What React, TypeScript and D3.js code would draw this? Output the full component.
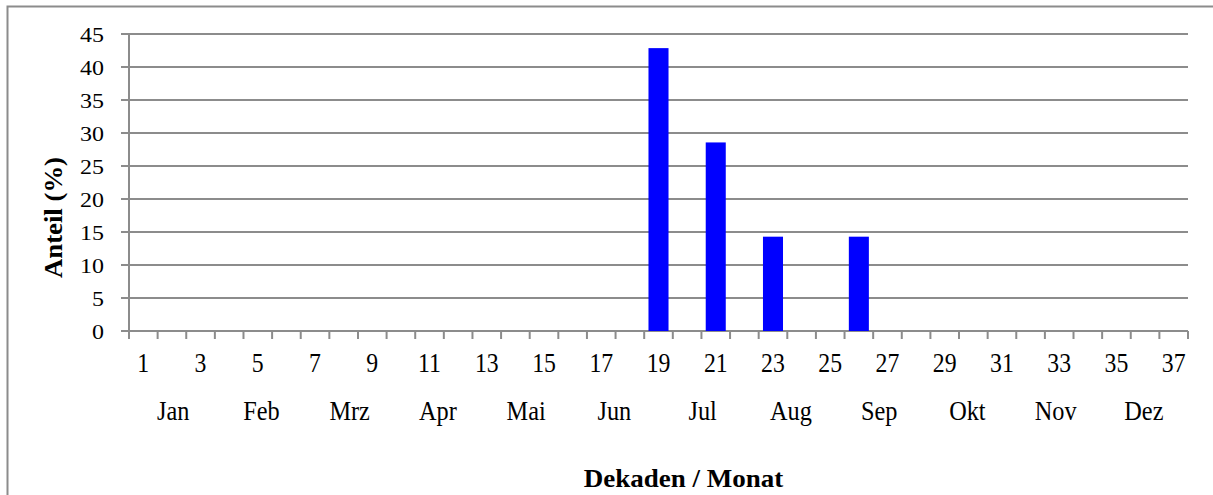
import React, { useEffect, useRef } from 'react';
import * as d3 from 'd3';

const decades = d3.range(1, 38).map(String);
const shares = [
  0, 0, 0, 0, 0, 0, 0, 0, 0, 0, 0, 0, 0, 0, 0, 0, 0, 0,
  42.86, 0, 28.57, 0, 14.29, 0, 0, 14.29,
  0, 0, 0, 0, 0, 0, 0, 0, 0, 0, 0,
];
const months = ['Jan', 'Feb', 'Mrz', 'Apr', 'Mai', 'Jun', 'Jul', 'Aug', 'Sep', 'Okt', 'Nov', 'Dez'];
const yTicks = [0, 5, 10, 15, 20, 25, 30, 35, 40, 45];

const width = 1213;
const height = 495;
const left = 129, right = 1188, top = 34, bottom = 331;
const font = '"Liberation Serif", "Times New Roman", serif';
const grey = '#8c8c8c';

function App() {
  const ref = useRef(null);

  useEffect(() => {
    const svg = d3.select(ref.current);
    svg.selectAll('*').remove();

    const x = d3.scaleBand().domain(decades).range([left, right]).paddingInner(0.3).paddingOuter(0.15);
    const xs = d3.scaleBand().domain(decades).range([left, right]);
    const xm = d3.scaleBand().domain(months).range([left, right]);
    const y = d3.scaleLinear().domain([0, 45]).range([bottom, top]);

    // frame (cut off at right and bottom)
    svg.append('path')
      .attr('d', `M7.5,${height + 5} V6.5 H${width + 5}`)
      .attr('fill', 'none').attr('stroke', grey).attr('stroke-width', 2);

    // grid
    svg.append('g').selectAll('line').data(yTicks).enter().append('line')
      .attr('x1', left - 8).attr('x2', right)
      .attr('y1', d => y(d)).attr('y2', d => y(d))
      .attr('stroke', grey).attr('stroke-width', 2);

    svg.append('line')
      .attr('x1', left).attr('x2', left).attr('y1', top).attr('y2', bottom)
      .attr('stroke', grey).attr('stroke-width', 2);

    svg.append('g').selectAll('text').data(yTicks).enter().append('text')
      .attr('transform', d => `translate(104,${y(d) + 7.5}) scale(1.09,1)`)
      .attr('text-anchor', 'end')
      .attr('font-family', font).attr('font-size', 22)
      .text(d => d);

    // bars
    svg.append('g').selectAll('rect').data(shares).enter().append('rect')
      .attr('x', (d, i) => x(decades[i]))
      .attr('width', x.bandwidth())
      .attr('y', d => y(d))
      .attr('height', d => bottom - y(d))
      .attr('fill', '#0000ff');

    // x ticks
    const edges = decades.map(d => xs(d)).concat([right]);
    svg.append('g').selectAll('line').data(edges).enter().append('line')
      .attr('x1', d => d).attr('x2', d => d)
      .attr('y1', bottom).attr('y2', bottom + 8)
      .attr('stroke', grey).attr('stroke-width', 2);

    svg.append('g').selectAll('text').data(decades.filter((d, i) => i % 2 === 0)).enter().append('text')
      .attr('transform', d => `translate(${xs(d) + xs.bandwidth() / 2},371.5) scale(0.88,1)`)
      .attr('text-anchor', 'middle')
      .attr('font-family', font).attr('font-size', 27)
      .text(d => d);

    svg.append('g').selectAll('text').data(months).enter().append('text')
      .attr('transform', d => `translate(${xm(d) + xm.bandwidth() / 2},420) scale(0.9,1)`)
      .attr('text-anchor', 'middle')
      .attr('font-family', font).attr('font-size', 27)
      .text(d => d);

    // axis titles
    svg.append('text')
      .attr('transform', 'translate(683.5,486.5) scale(1.08,1)')
      .attr('text-anchor', 'middle')
      .attr('font-family', font).attr('font-size', 25).attr('font-weight', 'bold')
      .text('Dekaden / Monat');

    svg.append('text')
      .attr('transform', 'translate(61.5,217.5) rotate(-90) scale(1.07,1)')
      .attr('text-anchor', 'middle')
      .attr('font-family', font).attr('font-size', 25).attr('font-weight', 'bold')
      .text('Anteil (%)');
  }, []);

  return (
    <svg ref={ref} width={width} height={height}
      style={{ position: 'absolute', left: 0, top: 0, background: '#fff' }} />
  );
}

export default App;
